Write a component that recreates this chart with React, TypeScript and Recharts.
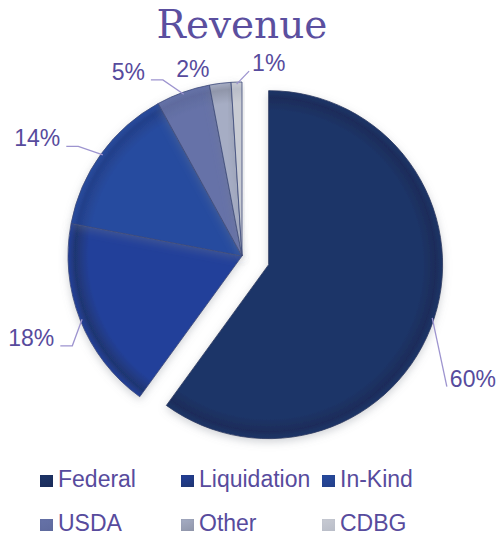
import React from 'react';
import { PieChart, Pie, Cell, Legend } from 'recharts';

const categories = ['Federal', 'Liquidation', 'In-Kind', 'USDA', 'Other', 'CDBG'];
const shares = [60, 18, 14, 5, 2, 1];

const sliceColors = ['#1d3568', '#23409a', '#284b9f', '#6672a8', '#a6adc4', '#c8cbd3'];
const legendColors = ['#1b2c5a', '#1f3672', '#23408a', '#5f6b9e', '#9096aa', '#b9bdc8'];
const textColor = '#574b9d';

const data = categories.map((name, i) => ({ name, value: shares[i] }));

const RAD = Math.PI / 180;
const CX = 242;
const CY = 256;
const R = 174;
const EXPLODE = 28;

// Federal is pulled out along its own mid angle
const total = shares.reduce((s, v) => s + v, 0);
const federalMid = 90 - ((shares[0] / total) * 360) / 2;
const fedCx = CX + EXPLODE * Math.cos(federalMid * RAD);
const fedCy = CY - EXPLODE * Math.sin(federalMid * RAD);

// label placement, Excel "best fit" style
const labelTurn = [-16.4, 6.3, 2.2, 4.4, 8.1, -4];
const labelReach = [42, 18, 23, 19, 12, 11];
const hasLeader = [true, true, true, true, false, true];

const makeLabel = (mainOnly: boolean) => (props: any) => {
  const { cx, cy, midAngle, outerRadius, index, percent } = props;
  if (mainOnly !== (index === 0)) return null;
  const a = (midAngle + labelTurn[index]) * RAD;
  const m = midAngle * RAD;
  const r = outerRadius + labelReach[index];
  const ex = cx + r * Math.cos(a);
  const ey = cy - r * Math.sin(a);
  const sx = cx + (outerRadius - 2) * Math.cos(m);
  const sy = cy - (outerRadius - 2) * Math.sin(m);
  const cos = Math.cos(a);
  const anchor = cos < -0.3 ? 'end' : hasLeader[index] ? 'start' : 'middle';
  const tail = anchor === 'end' ? 12 : 0;
  const tx = anchor === 'end' ? ex - tail - 6 : anchor === 'start' ? ex + 3 : ex;
  const pct = `${Math.round(percent * 100)}%`;
  return (
    <g key={`lbl-${index}`}>
      {hasLeader[index] && (
        <polyline
          points={`${sx},${sy} ${ex},${ey} ${ex - tail},${ey}`}
          fill="none"
          stroke="#9d94cf"
          strokeWidth={1.3}
        />
      )}
      <text
        x={tx}
        y={ey}
        textAnchor={anchor}
        fill={textColor}
        fontSize={23}
        fontFamily="'Liberation Sans', Arial, sans-serif"
      >
        {pct}
      </text>
    </g>
  );
};

const LegendGrid = () => (
  <div
    style={{
      display: 'grid',
      gridTemplateColumns: '141px 141px 141px',
      rowGap: 18,
      paddingLeft: 40,
    }}
  >
    {categories.map((c, i) => (
      <div key={c} style={{ display: 'flex', alignItems: 'center', height: 26 }}>
        <span
          style={{
            width: 13,
            height: 12,
            marginTop: 4,
            background: `linear-gradient(160deg, ${sliceColors[i]}, ${legendColors[i]})`,
            boxShadow: `inset 0 0 2px ${legendColors[i]}`,
          }}
        />
        <span
          style={{
            marginLeft: 5,
            fontSize: 23,
            lineHeight: '26px',
            color: textColor,
            fontFamily: "'Liberation Sans', Arial, sans-serif",
          }}
        >
          {c}
        </span>
      </div>
    ))}
  </div>
);

export default function App() {
  return (
    <div style={{ position: 'relative', width: 500, height: 536, background: '#fff' }}>
      <style>{'body{margin:0}'}</style>
      <div
        style={{
          position: 'absolute',
          top: 5,
          left: -8,
          width: 500,
          textAlign: 'center',
          fontFamily: "'DejaVu Serif', serif",
          fontSize: 39,
          lineHeight: '40px',
          color: '#5b4f9f',
          zIndex: 2,
        }}
      >
        Revenue
      </div>
      <PieChart width={500} height={536} margin={{ top: 0, right: 0, bottom: 0, left: 0 }}>
        <defs>
          {sliceColors.map((c, i) => (
            <radialGradient
              key={c}
              id={`slice${i}`}
              gradientUnits="userSpaceOnUse"
              cx={i === 0 ? fedCx : CX}
              cy={i === 0 ? fedCy : CY}
              r={R}
            >
              <stop offset="0%" stopColor={c} />
              <stop offset="88%" stopColor={c} />
              <stop offset="96%" stopColor={legendColors[i]} />
              <stop offset="100%" stopColor={c} />
            </radialGradient>
          ))}
          <filter id="soft" x="-20%" y="-20%" width="140%" height="140%">
            <feDropShadow dx="0" dy="3" stdDeviation="4" floodColor="#7a7f8c" floodOpacity="0.35" />
          </filter>
        </defs>
        <Pie
          data={data}
          dataKey="value"
          nameKey="name"
          cx={CX}
          cy={CY}
          outerRadius={R}
          startAngle={90}
          endAngle={-270}
          label={makeLabel(false)}
          labelLine={false}
          isAnimationActive={false}
        >
          {data.map((d, i) => (
            <Cell
              key={d.name}
              fill={i === 0 ? 'none' : `url(#slice${i})`}
              stroke={i === 0 ? 'none' : '#3a4778'}
              strokeWidth={0.8}
              filter={i === 0 ? undefined : 'url(#soft)'}
            />
          ))}
        </Pie>
        <Pie
          data={data}
          dataKey="value"
          nameKey="name"
          cx={fedCx}
          cy={fedCy}
          outerRadius={R}
          startAngle={90}
          endAngle={-270}
          label={makeLabel(true)}
          labelLine={false}
          isAnimationActive={false}
        >
          {data.map((d, i) => (
            <Cell
              key={d.name}
              fill={i === 0 ? 'url(#slice0)' : 'none'}
              stroke={i === 0 ? '#2a3760' : 'none'}
              strokeWidth={0.8}
              filter={i === 0 ? 'url(#soft)' : undefined}
            />
          ))}
        </Pie>
        <Legend
          content={<LegendGrid />}
          wrapperStyle={{ top: 466, left: 0, width: 500 }}
        />
      </PieChart>
    </div>
  );
}
